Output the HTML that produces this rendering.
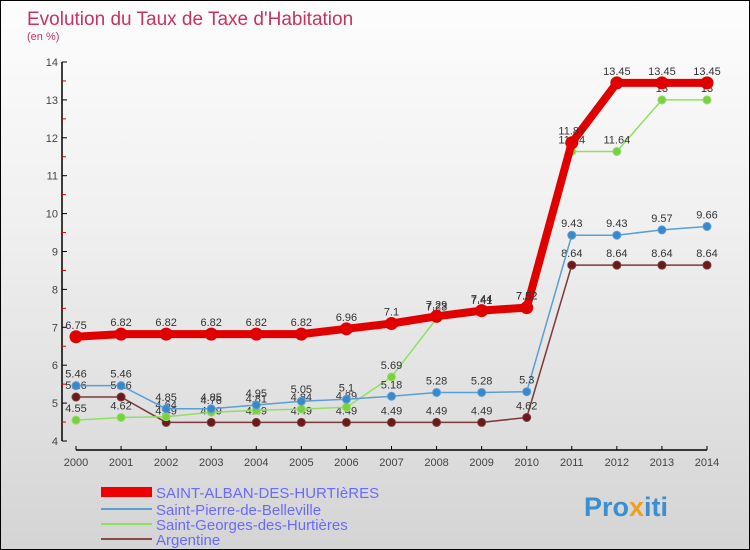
<!DOCTYPE html>
<html><head><meta charset="utf-8"><style>
body{margin:0}
#c{width:748px;height:548px;border:1px solid #000;position:relative;background:linear-gradient(#fdfdfd,#f0f0f0 40%,#d4d4d4);font-family:"Liberation Sans",sans-serif;overflow:hidden}
</style></head><body>
<div id="c">
<svg id="s" width="748" height="548" xmlns="http://www.w3.org/2000/svg">
<text x="26" y="24" font-size="19" fill="#c8325f">Evolution du Taux de Taxe d'Habitation</text>
<text x="26" y="39" font-size="11" fill="#c8325f">(en %)</text>
<g id="axes"></g><g id="series"></g>
<g>
<rect x="100" y="486" width="51" height="10" fill="#e00"/>
<text x="155" y="497" font-size="15" fill="#6a6aff">SAINT-ALBAN-DES-HURTIèRES</text>
<rect x="100" y="507" width="51" height="2" fill="#5a9fd4"/>
<text x="155" y="514" font-size="15" fill="#6a6aff">Saint-Pierre-de-Belleville</text>
<rect x="100" y="522" width="51" height="2" fill="#8fe060"/>
<text x="155" y="529" font-size="15" fill="#6a6aff">Saint-Georges-des-Hurtières</text>
<rect x="100" y="537" width="51" height="2" fill="#8a4a4a"/>
<text x="155" y="544" font-size="15" fill="#6a6aff">Argentine</text>
</g>
<text x="583" y="515" font-size="27" font-weight="bold" fill="#3a8fd0">Pro<tspan fill="#f0a020">x</tspan>iti</text>
</svg></div>
<script>
const years=[2000,2001,2002,2003,2004,2005,2006,2007,2008,2009,2010,2011,2012,2013,2014];
const yTicks=[4,5,6,7,8,9,10,11,12,13,14];
const alban=[6.75,6.82,6.82,6.82,6.82,6.82,6.96,7.1,7.29,7.44,7.52,11.87,13.45,13.45,13.45];
const pierre=[5.46,5.46,4.85,4.85,4.95,5.05,5.1,5.18,5.28,5.28,5.3,9.43,9.43,9.57,9.66];
const georges=[4.55,4.62,4.64,4.76,4.81,4.84,4.89,5.69,7.23,7.41,7.52,11.64,11.64,13,13];
const argentine=[5.16,5.16,4.49,4.49,4.49,4.49,4.49,4.49,4.49,4.49,4.62,8.64,8.64,8.64,8.64];
const NS="http://www.w3.org/2000/svg";
const xs=i=>75+i*(706-75)/(years.length-1);
const ys=v=>440-(v-4)*(440-61)/10;
function mk(t,a,p){const e=document.createElementNS(NS,t);for(const k in a)e.setAttribute(k,a[k]);p.appendChild(e);return e;}
const ax=document.getElementById('axes');
const yl=mk('line',{x1:61,y1:61,x2:61,y2:440,stroke:'#000','stroke-width':1.5},ax);


const xl=mk('line',{x1:75,y1:449,x2:706,y2:449,stroke:'#000','stroke-width':1.5},ax);


yTicks.forEach((v,i)=>{
 mk('line',{x1:61,y1:ys(v),x2:66,y2:ys(v),stroke:'#000'},ax);
 if(i<yTicks.length-1) mk('line',{x1:61,y1:ys(v+0.5),x2:65,y2:ys(v+0.5),stroke:'#d00'},ax);
 const t=mk('text',{x:57,y:ys(v)+4,'font-size':11,fill:'#444','text-anchor':'end'},ax);t.textContent=v;
 
 
});
years.forEach((y,i)=>{
 mk('line',{x1:xs(i),y1:445,x2:xs(i),y2:449,stroke:'#000'},ax);
 const t=mk('text',{x:xs(i),y:465,'font-size':11,fill:'#444','text-anchor':'middle'},ax);t.textContent=y;
 
 
});
const sg=document.getElementById('series');
function draw(d,col,w,r,name,fillc){
 const g=mk('g',{},sg);
 
 
 mk('polyline',{points:d.map((v,i)=>xs(i)+','+ys(v)).join(' '),fill:'none',stroke:col,'stroke-width':w,'stroke-linejoin':'round'},g);
 d.forEach((v,i)=>{
  const c=mk('circle',{cx:xs(i),cy:ys(v),r:r,fill:fillc,stroke:col,'stroke-width':1},g);
  
  
  const t=mk('text',{x:xs(i),y:ys(v)-8,'font-size':11,fill:'#333','text-anchor':'middle'},g);t.textContent=v;
  
  
 });
}
draw(argentine,'#7a3a3a',1.5,4,'series-argentine','#6a1a1a');
draw(georges,'#8fe060',1.5,4,'series-saint-georges','#7ad040');
draw(pierre,'#5a9fd4',1.5,4,'series-saint-pierre','#3a88cc');
draw(alban,'#e00000',8,6,'series-saint-alban','#e00000');
</script>
</body></html>
